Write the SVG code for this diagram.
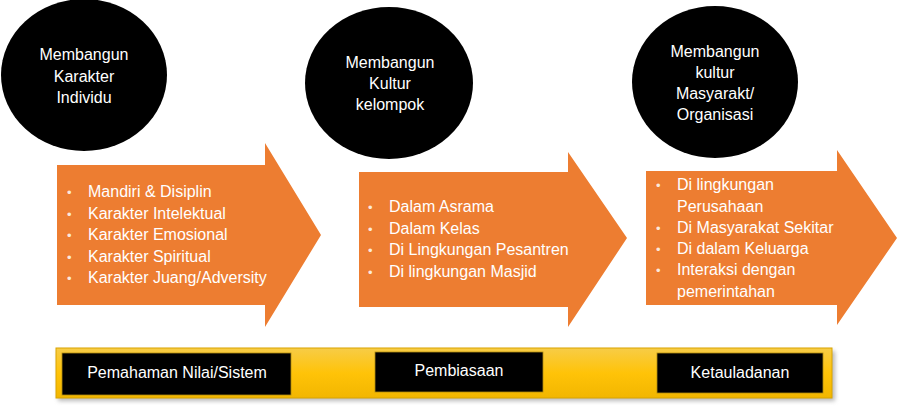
<svg xmlns="http://www.w3.org/2000/svg" width="899" height="407" viewBox="0 0 899 407">
  <defs>
    <linearGradient id="gold" x1="0" y1="0" x2="0" y2="1">
      <stop offset="0" stop-color="#f7cc47"/>
      <stop offset="0.5" stop-color="#ffc308"/>
      <stop offset="1" stop-color="#f2b600"/>
    </linearGradient>
    <filter id="shadow" x="-5%" y="-30%" width="110%" height="170%">
      <feGaussianBlur stdDeviation="2"/>
    </filter>
  </defs>
  <style>
    text { font-family: "Liberation Sans", Arial, sans-serif; font-size: 16px; fill: #ffffff; }
    .c { text-anchor: middle; }
    .b { font-size: 13px; fill: #fbe9dc; }
    .circle { fill: #000000; }
    .arrow { fill: #ed7d31; }
    .box { fill: #000000; stroke: #b08a10; stroke-width: 0.8; }
  </style>
  <rect width="899" height="407" fill="#ffffff"/>

  <g id="circle-individu">
    <ellipse class="circle" cx="84" cy="75" rx="83" ry="76"/>
    <text class="c" x="84" y="60">Membangun</text>
    <text class="c" x="84" y="81.5">Karakter</text>
    <text class="c" x="84" y="103">Individu</text>
  </g>
  <g id="circle-kelompok">
    <ellipse class="circle" cx="389" cy="83" rx="84" ry="76"/>
    <text class="c" x="390" y="68">Membangun</text>
    <text class="c" x="390" y="89">Kultur</text>
    <text class="c" x="390" y="110">kelompok</text>
  </g>
  <g id="circle-masyarakat">
    <ellipse class="circle" cx="715" cy="82" rx="83" ry="76"/>
    <text class="c" x="715" y="57">Membangun</text>
    <text class="c" x="715" y="78">kultur</text>
    <text class="c" x="715" y="99">Masyarakt/</text>
    <text class="c" x="715" y="120">Organisasi</text>
  </g>

  <g id="arrow-individu">
    <path class="arrow" d="M57,165 H265 V143 L321,235 L265,327 V305 H57 Z"/>
    <text class="b" x="67" y="197">•</text><text x="88" y="197">Mandiri &amp; Disiplin</text>
    <text class="b" x="67" y="218.5">•</text><text x="88" y="218.5">Karakter Intelektual</text>
    <text class="b" x="67" y="240">•</text><text x="88" y="240">Karakter Emosional</text>
    <text class="b" x="67" y="261.5">•</text><text x="88" y="261.5">Karakter Spiritual</text>
    <text class="b" x="67" y="283">•</text><text x="88" y="283">Karakter Juang/Adversity</text>
  </g>
  <g id="arrow-kelompok">
    <path class="arrow" d="M359,172 H568 V152 L627,238 L568,327 V307 H359 Z"/>
    <text class="b" x="368" y="212">•</text><text x="389" y="212">Dalam Asrama</text>
    <text class="b" x="368" y="233.5">•</text><text x="389" y="233.5">Dalam Kelas</text>
    <text class="b" x="368" y="255">•</text><text x="389" y="255">Di Lingkungan Pesantren</text>
    <text class="b" x="368" y="276.5">•</text><text x="389" y="276.5">Di lingkungan Masjid</text>
  </g>
  <g id="arrow-masyarakat">
    <path class="arrow" d="M646,171 H837 V150 L897,238 L837,325 V305 H646 Z"/>
    <text class="b" x="656" y="190">•</text><text x="677" y="190">Di lingkungan</text>
    <text x="677" y="212">Perusahaan</text>
    <text class="b" x="656" y="233">•</text><text x="677" y="233">Di Masyarakat Sekitar</text>
    <text class="b" x="656" y="253.5">•</text><text x="677" y="253.5">Di dalam Keluarga</text>
    <text class="b" x="656" y="275">•</text><text x="677" y="275">Interaksi dengan</text>
    <text x="677" y="296.5">pemerintahan</text>
  </g>

  <g id="bar">
    <rect x="58" y="351" width="777" height="50" fill="#8a8a8a" opacity="0.6" filter="url(#shadow)"/>
    <rect x="56" y="348" width="776" height="50" fill="url(#gold)" stroke="#d9a400" stroke-width="1"/>
  </g>
  <g id="stage-pemahaman">
    <rect class="box" x="62" y="353" width="229" height="42"/>
    <text class="c" x="177" y="378">Pemahaman Nilai/Sistem</text>
  </g>
  <g id="stage-pembiasaan">
    <rect class="box" x="375" y="352" width="168" height="40"/>
    <text class="c" x="459" y="376">Pembiasaan</text>
  </g>
  <g id="stage-ketauladanan">
    <rect class="box" x="657" y="353" width="166" height="40"/>
    <text class="c" x="740" y="378">Ketauladanan</text>
  </g>
</svg>
